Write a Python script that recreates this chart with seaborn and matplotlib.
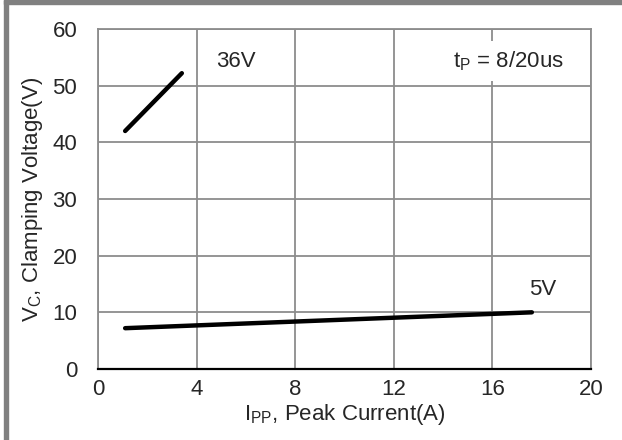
import seaborn as sns
import matplotlib.pyplot as plt
import pandas as pd

# data
i_36v = [1.1, 3.4]
vc_36v = [42.0, 52.2]
i_5v = [1.1, 17.6]
vc_5v = [7.2, 10.0]

x_ticks = [0, 4, 8, 12, 16, 20]
y_ticks = [0, 10, 20, 30, 40, 50, 60]

df = pd.concat([
    pd.DataFrame({"I": i_36v, "VC": vc_36v, "part": "36V"}),
    pd.DataFrame({"I": i_5v, "VC": vc_5v, "part": "5V"}),
])

sns.set_style("white")
plt.rcParams['font.family'] = ['Liberation Sans', 'DejaVu Sans']

fs = 16

fig = plt.figure(figsize=(6.22, 4.40), dpi=100)
ax = fig.add_axes([0.1576, 0.1614, 0.7926, 0.7727])

sns.lineplot(data=df, x="I", y="VC", units="part", estimator=None,
             color="black", linewidth=3.2, solid_capstyle="round",
             legend=False, ax=ax)

ax.set_xlim(0, 20)
ax.set_ylim(0, 60)
ax.set_xticks(x_ticks)
ax.set_yticks(y_ticks)
ax.grid(True, color="#8c8c8c", linewidth=1.3)
ax.set_axisbelow(True)
for side in ["top", "right", "left"]:
    ax.spines[side].set_color("#8c8c8c")
    ax.spines[side].set_linewidth(1.3)
ax.spines["bottom"].set_color("black")
ax.spines["bottom"].set_linewidth(1.6)
ax.tick_params(axis="both", length=0, labelsize=fs)
ax.tick_params(axis="x", pad=7)
ax.tick_params(axis="y", pad=15)

ax.set_xlabel("I$_{\\mathregular{PP}}$, Peak Current(A)", fontsize=fs, labelpad=2)
ax.set_ylabel("V$_{\\mathregular{C}}$, Clamping Voltage(V)", fontsize=fs, labelpad=5)

ax.text(4.8, 53.3, "36V", fontsize=fs)
ax.text(17.5, 13.0, "5V", fontsize=fs)
ax.text(14.4, 53.3, "t$_{\\mathregular{P}}$ = 8/20us", fontsize=fs,
        bbox=dict(facecolor="white", edgecolor="none", pad=6))

# grey frame on the left and top edge of the figure
fig.patches.append(plt.Rectangle((4 / 622, 0), 4 / 622, 1, transform=fig.transFigure,
                                 color="#808080", zorder=0))
fig.patches.append(plt.Rectangle((4 / 622, 1 - 4 / 440), 1, 4 / 440, transform=fig.transFigure,
                                 color="#808080", zorder=0))

fig.savefig("out.png", dpi=100)
